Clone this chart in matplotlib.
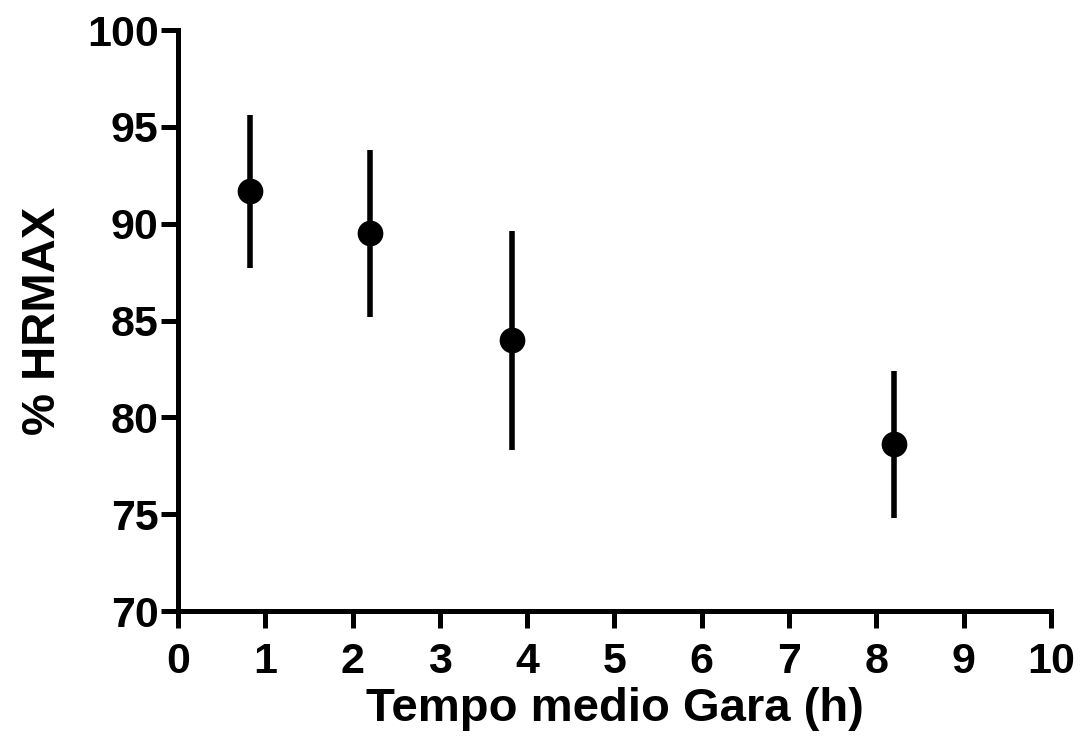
import matplotlib

matplotlib.use("Agg")
import matplotlib.pyplot as plt

# mean race time (h) vs % of max heart rate, mean ± SD
tempo = [0.83, 2.2, 3.83, 8.2]
hrmax = [91.7, 89.5, 84.0, 78.6]
err_low = [4.0, 4.3, 5.7, 3.8]
err_high = [3.9, 4.3, 5.6, 3.8]

xticks = list(range(0, 11))
yticks = [70, 75, 80, 85, 90, 95, 100]

plt.rcParams.update({
    "font.family": ["Liberation Sans", "DejaVu Sans"],
    "font.weight": "bold",
})

fig = plt.figure(figsize=(10.82, 7.5), dpi=100)
ax = fig.add_axes([0.1645, 0.1853, 0.8068, 0.7747])

ax.errorbar(tempo, hrmax, yerr=[err_low, err_high], fmt="o", color="black",
            ms=17.5, elinewidth=4, capsize=0, clip_on=False, zorder=3)

ax.set_xlim(0, 10)
ax.set_ylim(70, 100)
ax.set_xticks(xticks)
ax.set_yticks(yticks)
for s in ("top", "right"):
    ax.spines[s].set_visible(False)
for s in ("left", "bottom"):
    ax.spines[s].set_linewidth(3.6)
    ax.spines[s].set_capstyle("projecting")
ax.tick_params(width=3.6, length=12, labelsize=31, direction="out", pad=2)
ax.tick_params(axis="x", pad=10)
for lab in ax.get_xticklabels() + ax.get_yticklabels():
    lab.set_fontweight("bold")

ax.set_xlabel("Tempo medio Gara (h)", fontsize=34, fontweight="bold", labelpad=4)
ax.set_ylabel("% HRMAX", fontsize=34, fontweight="bold", labelpad=16)

fig.savefig("out.png", dpi=100)
